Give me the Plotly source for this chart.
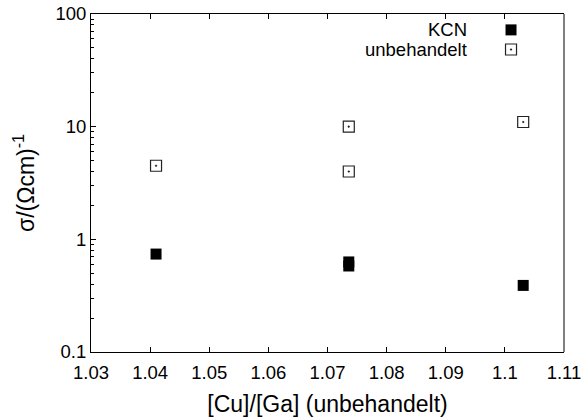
import plotly.graph_objects as go

# data
x_kcn = [1.041, 1.0736, 1.0736, 1.1031]
y_kcn = [0.74, 0.63, 0.58, 0.39]
x_unb = [1.041, 1.0736, 1.0736, 1.1031]
y_unb = [4.5, 10.0, 4.0, 11.0]
names = ["KCN", "unbehandelt"]
x_ticks = [1.03, 1.04, 1.05, 1.06, 1.07, 1.08, 1.09, 1.10, 1.11]
x_tick_labels = ["1.03", "1.04", "1.05", "1.06", "1.07", "1.08", "1.09", "1.1", "1.11"]
y_ticks = [0.1, 1, 10, 100]
y_tick_labels = ["0.1", "1", "10", "100"]

FONT = "Liberation Sans, Arial, Helvetica, sans-serif"
fs = 19

filled = dict(symbol="square", size=11, color="black")
opened = dict(symbol="square-open-dot", size=11, color="#222", line=dict(width=1.2))

fig = go.Figure()
fig.add_trace(go.Scatter(x=x_kcn, y=y_kcn, mode="markers", marker=filled, name=names[0], showlegend=False))
fig.add_trace(go.Scatter(x=x_unb, y=y_unb, mode="markers", marker=opened, name=names[1], showlegend=False))

# legend keys (gnuplot style: text right, symbol to the right)
key_x = 0.888
key_text_x = 0.797
key_y = [0.953, 0.895]
fig.add_trace(go.Scatter(x=[key_x], y=[key_y[0]], xaxis="x2", yaxis="y2", mode="markers",
                         marker=filled, showlegend=False, hoverinfo="skip"))
fig.add_trace(go.Scatter(x=[key_x], y=[key_y[1]], xaxis="x2", yaxis="y2", mode="markers",
                         marker=opened, showlegend=False, hoverinfo="skip"))
for n, yy in zip(names, key_y):
    fig.add_annotation(text=n, xref="paper", yref="paper", x=key_text_x, y=yy,
                       xanchor="right", yanchor="middle", showarrow=False, borderpad=0,
                       font=dict(family=FONT, size=18.5, color="black"))

fig.update_layout(
    width=582, height=417,
    margin=dict(l=91, r=18, t=14, b=65),
    paper_bgcolor="white", plot_bgcolor="white",
    font=dict(family=FONT, size=fs, color="black"),
    xaxis=dict(range=[1.03, 1.11], tickvals=x_ticks, ticktext=x_tick_labels,
               ticks="inside", ticklen=5, tickcolor="black", mirror="ticks",
               showline=True, linecolor="black", linewidth=1, showgrid=False, zeroline=False,
               ticklabelstandoff=4, automargin=False,
               title=dict(text="[Cu]/[Ga] (unbehandelt)", standoff=14),
               tickfont=dict(size=18.5)),
    yaxis=dict(type="log", range=[-1, 2], tickvals=y_ticks, ticktext=y_tick_labels,
               ticks="inside", ticklen=5, tickcolor="black", automargin=False,
               minor=dict(ticks="inside", ticklen=3, tickcolor="black", dtick="D1", showgrid=False),
               showline=True, linecolor="black", linewidth=1, showgrid=False, zeroline=False,
               title=dict(text="σ/(Ωcm)<sup>-1</sup>", standoff=14),
               tickfont=dict(size=18.5)),
    xaxis2=dict(range=[0, 1], overlaying="x", visible=False, fixedrange=True),
    yaxis2=dict(range=[0, 1], overlaying="y", visible=False, fixedrange=True),
    showlegend=False,
)
# right side line without ticks
fig.add_shape(type="line", xref="paper", yref="paper", x0=1, x1=1, y0=0, y1=1,
              line=dict(color="black", width=1))

fig.write_html("out.html")
